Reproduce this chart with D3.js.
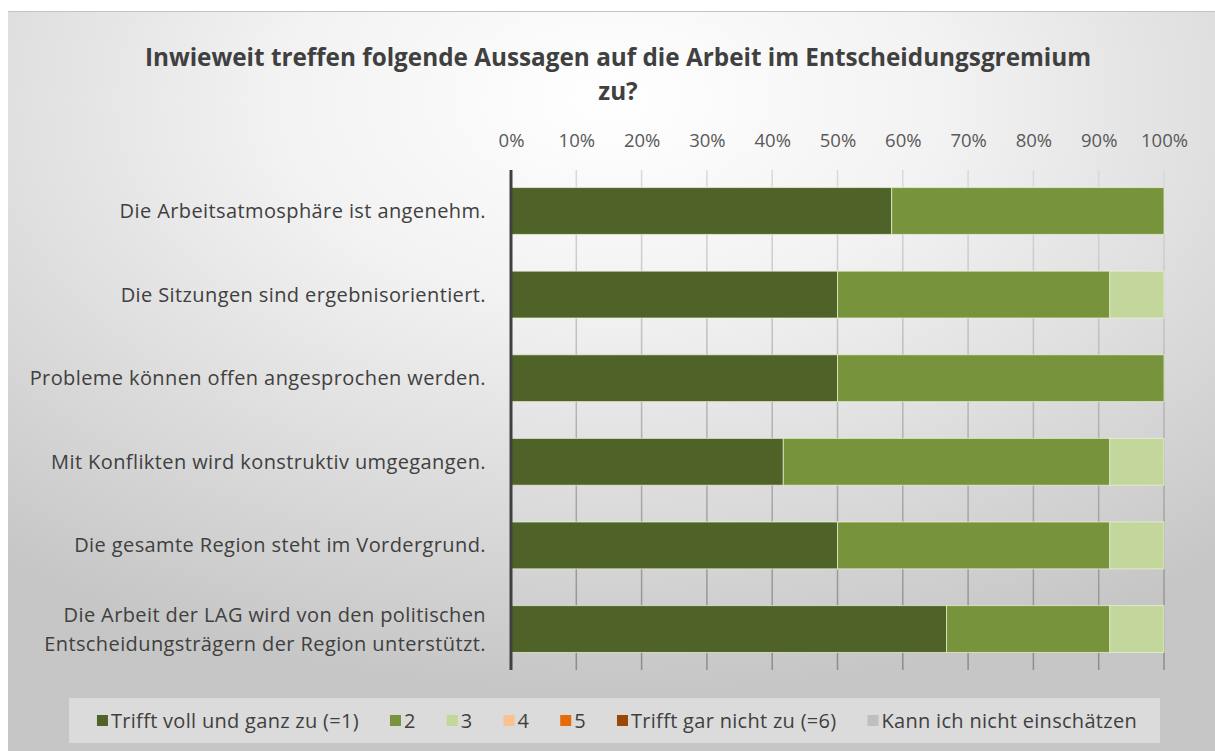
<!DOCTYPE html>
<html lang="de">
<head>
<meta charset="utf-8">
<title>Entscheidungsgremium</title>
<script src="https://cdn.jsdelivr.net/npm/d3@7"></script>
<style>
  body { margin: 0; background: #fff; }
  svg { display: block; }
  text { font-family: "Open Sans", "Noto Sans", sans-serif; }
  .title { font-weight: bold; fill: #404040; }
  .tick-label { fill: #595959; font-size: 18.5px; }
  .cat-label { fill: #404040; font-size: 20px; letter-spacing: 0.4px; }
  .legend text { fill: #404040; font-size: 20px; letter-spacing: 0.3px; }
</style>
</head>
<body>
<div id="chart"></div>
<script>
var categories = [
  ["Die Arbeitsatmosphäre ist angenehm."],
  ["Die Sitzungen sind ergebnisorientiert."],
  ["Probleme können offen angesprochen werden."],
  ["Mit Konflikten wird konstruktiv umgegangen."],
  ["Die gesamte Region steht im Vordergrund."],
  ["Die Arbeit der LAG wird von den politischen", "Entscheidungsträgern der Region unterstützt."]
];
var seriesNames = ["Trifft voll und ganz zu (=1)", "2", "3", "4", "5", "Trifft gar nicht zu (=6)", "Kann ich nicht einschätzen"];
var seriesColors = ["#4f6228", "#77933c", "#c3d69b", "#fac090", "#e46c0a", "#984807", "#bfbfbf"];
// shares per statement, one array per answer
var s1 = [0.583, 0.500, 0.500, 0.417, 0.500, 0.667];
var s2 = [0.417, 0.417, 0.500, 0.500, 0.417, 0.250];
var s3 = [0.000, 0.083, 0.000, 0.083, 0.083, 0.083];
var s4 = [0, 0, 0, 0, 0, 0];
var s5 = [0, 0, 0, 0, 0, 0];
var s6 = [0, 0, 0, 0, 0, 0];
var s7 = [0, 0, 0, 0, 0, 0];
var tickValues = [0, 0.1, 0.2, 0.3, 0.4, 0.5, 0.6, 0.7, 0.8, 0.9, 1];
var titleLines = ["Inwieweit treffen folgende Aussagen auf die Arbeit im Entscheidungsgremium", "zu?"];

var W = 1215, H = 751;
var series = [s1, s2, s3, s4, s5, s6, s7];
var keys = categories.map(function(c) { return c.join(" "); });

var rows = keys.map(function(k, i) {
  var r = { key: k };
  series.forEach(function(s, j) { r["s" + j] = s[i]; });
  return r;
});
var stack = d3.stack().keys(series.map(function(s, j) { return "s" + j; }))(rows);

var svg = d3.select("#chart").append("svg")
    .attr("width", W)
    .attr("height", H);

var defs = svg.append("defs");
var bg = defs.append("radialGradient")
    .attr("id", "bg")
    .attr("cx", "50%").attr("cy", "12%")
    .attr("r", "80%")
    .attr("fx", "50%").attr("fy", "12%");
bg.append("stop").attr("offset", "0%").attr("stop-color", "#ffffff");
bg.append("stop").attr("offset", "35%").attr("stop-color", "#f2f2f2");
bg.append("stop").attr("offset", "100%").attr("stop-color", "#c6c6c6");

var gridGrad = defs.append("linearGradient")
    .attr("id", "gridGrad")
    .attr("gradientUnits", "userSpaceOnUse")
    .attr("x1", 0).attr("y1", 170).attr("x2", 0).attr("y2", 670);
gridGrad.append("stop").attr("offset", "0%").attr("stop-color", "#dadada");
gridGrad.append("stop").attr("offset", "100%").attr("stop-color", "#8c8c8c");

svg.append("rect")
    .attr("x", 8).attr("y", 11)
    .attr("width", W - 8).attr("height", H - 11)
    .attr("fill", "url(#bg)");
svg.append("line")
    .attr("x1", 8).attr("x2", W)
    .attr("y1", 11.5).attr("y2", 11.5)
    .attr("stroke", "#c4c4c4");

// title
svg.append("text")
    .attr("class", "title")
    .attr("text-anchor", "middle")
    .style("font-size", "24.3px")
  .selectAll("tspan")
  .data(titleLines)
  .enter().append("tspan")
    .attr("x", 618)
    .attr("y", function(d, i) { return 66 + i * 34; })
    .text(function(d) { return d; });

var x = d3.scaleLinear().domain([0, 1]).range([511, 1164]);
var y = d3.scaleBand().domain(keys).range([170, 670]).paddingInner(0.44).paddingOuter(0.21);

// gridlines
svg.append("g")
  .selectAll("line")
  .data(tickValues.slice(1))
  .enter().append("line")
    .attr("x1", function(d) { return x(d); })
    .attr("x2", function(d) { return x(d); })
    .attr("y1", 170).attr("y2", 670)
    .attr("stroke", "url(#gridGrad)")
    .attr("stroke-width", 1.5);

// top axis labels
var xAxis = d3.axisTop(x).tickValues(tickValues).tickFormat(d3.format(".0%")).tickSize(0).tickPadding(0);
var gx = svg.append("g")
    .attr("transform", "translate(0,147)")
    .call(xAxis);
gx.select(".domain").remove();
gx.selectAll("text").attr("class", "tick-label").attr("fill", null).attr("font-family", null).attr("font-size", null);

// bars
svg.append("g")
  .selectAll("g")
  .data(stack)
  .enter().append("g")
    .attr("fill", function(d, j) { return seriesColors[j]; })
  .selectAll("rect")
  .data(function(d) { return d.filter(function(p) { return p[1] - p[0] > 0; }); })
  .enter().append("rect")
    .attr("x", function(d) { return x(d[0]); })
    .attr("width", function(d) { return x(d[1]) - x(d[0]); })
    .attr("y", function(d) { return y(d.data.key); })
    .attr("height", y.bandwidth())
    .attr("stroke", "rgba(235,245,215,0.7)")
    .attr("stroke-width", 1);

// left axis line
svg.append("line")
    .attr("x1", x(0)).attr("x2", x(0))
    .attr("y1", 170).attr("y2", 670)
    .attr("stroke", "#404040")
    .attr("stroke-width", 3);

// category labels
var lineH = 29;
svg.append("g")
  .selectAll("text")
  .data(categories)
  .enter().append("text")
    .attr("class", "cat-label")
    .attr("text-anchor", "end")
    .each(function(lines, i) {
      var cy = y(keys[i]) + y.bandwidth() / 2;
      var t = d3.select(this);
      lines.forEach(function(l, k) {
        t.append("tspan")
          .attr("x", 486)
          .attr("y", cy + (k - (lines.length - 1) / 2) * lineH)
          .attr("dy", "0.35em")
          .text(l);
      });
    });

// legend
svg.append("rect")
    .attr("x", 69).attr("y", 698)
    .attr("width", 1091).attr("height", 45)
    .attr("fill", "#f4f4f4")
    .attr("fill-opacity", 0.45);

var legend = svg.append("g").attr("class", "legend");
var items = legend.selectAll("g")
  .data(seriesNames)
  .enter().append("g");
items.append("rect")
    .attr("width", 11).attr("height", 11)
    .attr("y", -6)
    .attr("fill", function(d, j) { return seriesColors[j]; });
items.append("text")
    .attr("x", 14)
    .attr("dy", "0.35em")
    .text(function(d) { return d; });
var pos = 0, gap = 31;
items.each(function() {
  var w = 14 + this.querySelector("text").getComputedTextLength();
  d3.select(this).attr("data-x", pos);
  pos += w + gap;
});
var total = pos - gap;
var start = 617 - total / 2;
items.attr("transform", function() { return "translate(" + (start + +this.getAttribute("data-x")) + ",721)"; });
</script>
</body>
</html>
